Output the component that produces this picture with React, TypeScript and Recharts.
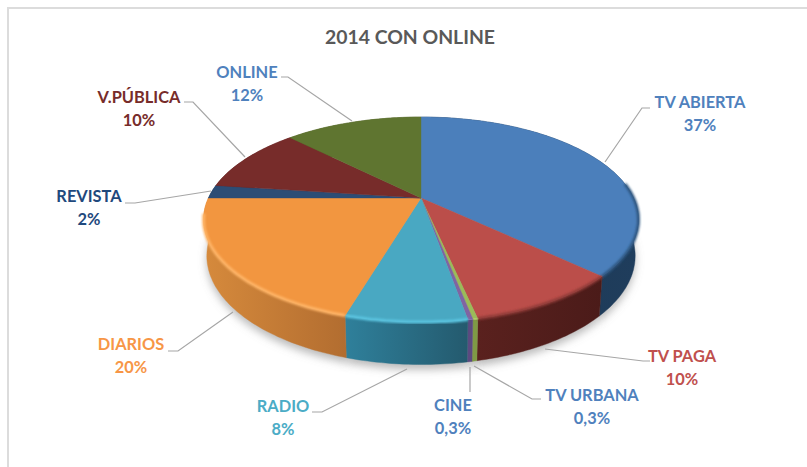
import { Pie, PieChart } from "recharts";

const categories = ["TV ABIERTA", "TV PAGA", "TV URBANA", "CINE", "RADIO", "DIARIOS", "REVISTA", "V.PÚBLICA", "ONLINE"];
const shares = [37, 9.6, 0.3, 0.3, 7.4, 20.4, 2.1, 10.4, 12.5];
const shareLabels = ["37%", "10%", "0,3%", "0,3%", "8%", "20%", "2%", "10%", "12%"];
const chartData = categories.map((name, i) => ({ name, value: shares[i], label: shareLabels[i] }));

// colours, one per slice
const topColors = ["#4b7fbb", "#bb4e4a", "#9bbb59", "#8064a2", "#49a8c2", "#f29640", "#2c4d75", "#772c2a", "#5f7530"];
const rimColors = ["#2f5680", "#8f3a37", "#b3d06c", "#8f74b4", "#5cc6e2", "#ffb568", "#2c4d75", "#772c2a", "#5f7530"];
const textColors = ["#4f81bd", "#c0504d", "#4f81bd", "#4f81bd", "#4bacc6", "#f79646", "#1f497d", "#772c2a", "#4f81bd"];
const wallStops = [
  ["#1d3853", "#1f3d5c"],
  ["#5a211e", "#4b1b19"],
  ["#7f9a45", "#7f9a45"],
  ["#5c4a80", "#5c4a80"],
  ["#2f809b", "#245a6e"],
  ["#d68a3c", "#b26d30"],
  ["#223c5c", "#223c5c"],
  ["#5a211e", "#5a211e"],
  ["#48591f", "#48591f"],
];

// label placement: centre x, first line y, then the leader line points
const labelBoxes = [
  { x: 700, y: 108, line: "605,162 642,108 650,108" },
  { x: 682, y: 362, line: "545,349 643,361 650,361" },
  { x: 592, y: 401, line: "474,366 532,399 541,399" },
  { x: 453, y: 411, line: "470,367 470,392" },
  { x: 283, y: 412, line: "407,369 322,412 312,412" },
  { x: 131, y: 350, line: "233,312 178,351 168,351" },
  { x: 89, y: 202, line: "211,191 135,203 125,203" },
  { x: 139, y: 103, line: "245,157 193,102 184,102" },
  { x: 247, y: 78, line: "352,121 288,77 281,77" },
];

const WIDTH = 807;
const HEIGHT = 467;
const FONT = "Lato, 'Open Sans', sans-serif";

// how the flat pie gets tipped back
const TILT = 0.461;
const PERSPECTIVE = 0.21;
const DEPTH = 35;
const BOTTOM_SCALE = 0.985;

const project = (p: any, deg: number, scale = 1, drop = 0) => {
  const a = (deg * Math.PI) / 180;
  const w = 1 + PERSPECTIVE * Math.sin(a);
  return [
    p.cx + (scale * p.outerRadius * Math.cos(a)) / w,
    p.cy - (scale * p.outerRadius * TILT * Math.sin(a)) / w + drop / w,
  ];
};

const arcPoints = (p: any, scale = 1, drop = 0) => {
  const steps = Math.max(2, Math.ceil(Math.abs(p.startAngle - p.endAngle)));
  const pts = [];
  for (let i = 0; i <= steps; i++) {
    pts.push(project(p, p.startAngle + ((p.endAngle - p.startAngle) * i) / steps, scale, drop));
  }
  return pts;
};

const toPath = (pts: number[][]) => pts.map((q, i) => `${i ? "L" : "M"}${q[0].toFixed(1)} ${q[1].toFixed(1)}`).join(" ");

const TopFace = (p: any) => {
  const arc = arcPoints(p);
  // rim only shows on the front, a bit higher up on the right side
  const rim = arc.filter((_, i) => {
    const a = ((p.startAngle + ((p.endAngle - p.startAngle) * i) / (arc.length - 1)) * Math.PI) / 180;
    return Math.sin(a) < (Math.cos(a) > 0 ? 0.15 : -0.15);
  });
  return (
    <g>
      <path d={`${toPath(arc)} L${p.cx} ${p.cy} Z`} fill={topColors[p.index]} stroke={topColors[p.index]} strokeWidth={0.4} />
      {rim.length > 1 && (
        <path d={toPath(rim)} fill="none" stroke={rimColors[p.index]} strokeWidth={3} filter="url(#soft)" />
      )}
    </g>
  );
};

const Wall = (p: any) => {
  const top = arcPoints(p);
  const bottom = arcPoints(p, BOTTOM_SCALE, DEPTH).reverse();
  return <path d={`${toPath(top)} ${toPath(bottom).replace("M", "L")} Z`} fill={`url(#wall${p.index})`} stroke={`url(#wall${p.index})`} strokeWidth={0.4} />;
};

const Shadow = (p: any) => {
  const bottom = arcPoints(p, BOTTOM_SCALE, DEPTH + 4);
  return <path d={`${toPath(bottom)} L${p.cx} ${p.cy} Z`} fill="#7f7f7f" fillOpacity={0.55} filter="url(#blur)" />;
};

const renderLabel = (p: any) => {
  const box = labelBoxes[p.index];
  return (
    <g key={p.name}>
      <polyline points={box.line} fill="none" stroke="#a6a6a6" strokeWidth={1.2} />
      <text x={box.x} y={box.y} textAnchor="middle" fontFamily={FONT} fontWeight={700} fontSize={16.4} fill={textColors[p.index]}>
        {p.name}
      </text>
      <text x={box.x} y={box.y + 23} textAnchor="middle" fontFamily={FONT} fontWeight={700} fontSize={16.4} fill={textColors[p.index]}>
        {p.label}
      </text>
    </g>
  );
};

export default function App() {
  return (
    <div style={{ position: "absolute", left: 0, top: 0, width: WIDTH, height: HEIGHT, overflow: "hidden", background: "#fff" }}>
      <div style={{ position: "absolute", left: 7, top: 7, right: 0, bottom: 0, borderLeft: "2px solid #dcdcdc", borderTop: "2px solid #dcdcdc" }} />
      <div style={{ position: "absolute", left: 0, top: 0 }}>
        <PieChart width={WIDTH} height={HEIGHT} margin={{ top: 0, right: 0, bottom: 0, left: 0 }}>
          <defs>
            <filter id="soft" x="-20%" y="-20%" width="140%" height="140%">
              <feGaussianBlur stdDeviation="0.9" />
            </filter>
            <filter id="blur" x="-20%" y="-20%" width="140%" height="140%">
              <feGaussianBlur stdDeviation="4" />
            </filter>
            {wallStops.map((stops, i) => (
              <linearGradient key={i} id={`wall${i}`} x1="0" y1="0" x2="1" y2="0">
                <stop offset="0%" stopColor={stops[0]} />
                <stop offset="100%" stopColor={stops[1]} />
              </linearGradient>
            ))}
          </defs>
          <text x={410} y={44} textAnchor="middle" fontFamily={FONT} fontWeight={700} fontSize={19.4} fill="#595959">
            2014 CON ONLINE
          </text>
          <Pie data={chartData} dataKey="value" cx={421} cy={198} outerRadius={212.6} startAngle={90} endAngle={-270} stroke="none" shape={Shadow} isAnimationActive={false} />
          <Pie data={chartData} dataKey="value" cx={421} cy={198} outerRadius={212.6} startAngle={90} endAngle={-270} stroke="none" shape={Wall} isAnimationActive={false} />
          <Pie data={chartData} dataKey="value" cx={421} cy={198} outerRadius={212.6} startAngle={90} endAngle={-270} stroke="none" shape={TopFace} label={renderLabel} labelLine={false} isAnimationActive={false} />
        </PieChart>
      </div>
    </div>
  );
}
